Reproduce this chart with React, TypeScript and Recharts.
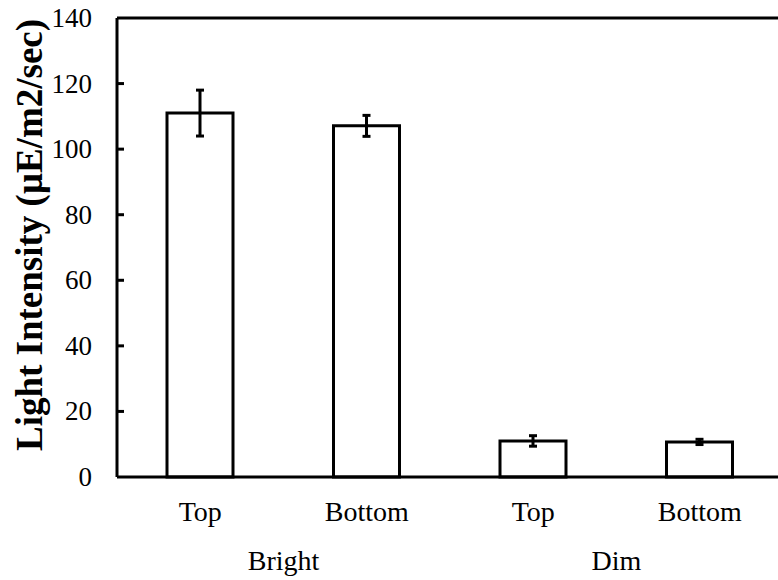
import { BarChart, Bar, XAxis, YAxis, ErrorBar, ReferenceLine } from 'recharts';

const categories = ['Top', 'Bottom', 'Top', 'Bottom'];
const groups = ['Bright', 'Bright', 'Dim', 'Dim'];
const intensity = [111, 107.1, 11, 10.7];
const intensityErr = [7, 3.2, 1.6, 0.8];
const yTicks = [0, 20, 40, 60, 80, 100, 120, 140];

const data = categories.map((name, i) => ({
  name,
  group: groups[i],
  value: intensity[i],
  err: intensityErr[i],
}));

const font = '"Liberation Serif", "Times New Roman", serif';
const CHART_W = 800;
const PLOT_LEFT = 117;
const PLOT_RIGHT = 17;
const bandHalf = (CHART_W - PLOT_LEFT - PLOT_RIGHT) / categories.length / 2;

const YTick = ({ x, y, payload }: any) => (
  <g>
    {payload.value !== 140 && payload.value !== 0 && (
      <line x1={x} x2={x + 7} y1={y} y2={y} stroke="#000" strokeWidth={3} />
    )}
    <text x={x - 25} y={y + 9} textAnchor="end" fontSize={27} fontFamily={font} fill="#000">
      {payload.value}
    </text>
  </g>
);

const NameTick = ({ x, y, payload }: any) => (
  <text x={x} y={y + 44} textAnchor="middle" fontSize={28} fontFamily={font} fill="#000">
    {payload.value}
  </text>
);

const GroupTick = ({ x, y, payload, index }: any) => {
  if (index % 2 !== 0) return null;
  return (
    <text x={x + bandHalf} y={y + 43} textAnchor="middle" fontSize={28} fontFamily={font} fill="#000">
      {payload.value}
    </text>
  );
};

const YTitle = () => (
  <text
    transform="translate(42,235) rotate(-90)"
    textAnchor="middle"
    fontSize={37}
    fontWeight="bold"
    fontFamily={font}
    fill="#000"
  >
    Light Intensity (μE/m2/sec)
  </text>
);

export default function App() {
  return (
    <div style={{ position: 'absolute', left: 0, top: 0, width: 778, height: 580, overflow: 'hidden', background: '#fff' }}>
      <BarChart
        width={CHART_W}
        height={580}
        data={data}
        margin={{ top: 18, right: PLOT_RIGHT, left: 0, bottom: 0 }}
      >
        <XAxis
          dataKey="name"
          tickLine={false}
          tickSize={0}
          tickMargin={0}
          interval={0}
          height={50}
          axisLine={{ stroke: '#000', strokeWidth: 3 }}
          tick={<NameTick />}
        />
        <XAxis
          xAxisId="group"
          dataKey="group"
          tickLine={false}
          tickSize={0}
          tickMargin={0}
          interval={0}
          height={53}
          axisLine={false}
          tick={<GroupTick />}
        />
        <YAxis
          width={PLOT_LEFT}
          domain={[0, 140]}
          ticks={yTicks}
          tickLine={false}
          tickSize={0}
          tickMargin={0}
          axisLine={{ stroke: '#000', strokeWidth: 3 }}
          tick={<YTick />}
          label={{ content: () => <YTitle /> }}
        />
        <ReferenceLine y={140} stroke="#000" strokeWidth={3} />
        <Bar dataKey="value" fill="#fff" stroke="#000" strokeWidth={3} barSize={66} isAnimationActive={false}>
          <ErrorBar dataKey="err" width={4} stroke="#000" strokeWidth={3} isAnimationActive={false} />
        </Bar>
      </BarChart>
    </div>
  );
}
